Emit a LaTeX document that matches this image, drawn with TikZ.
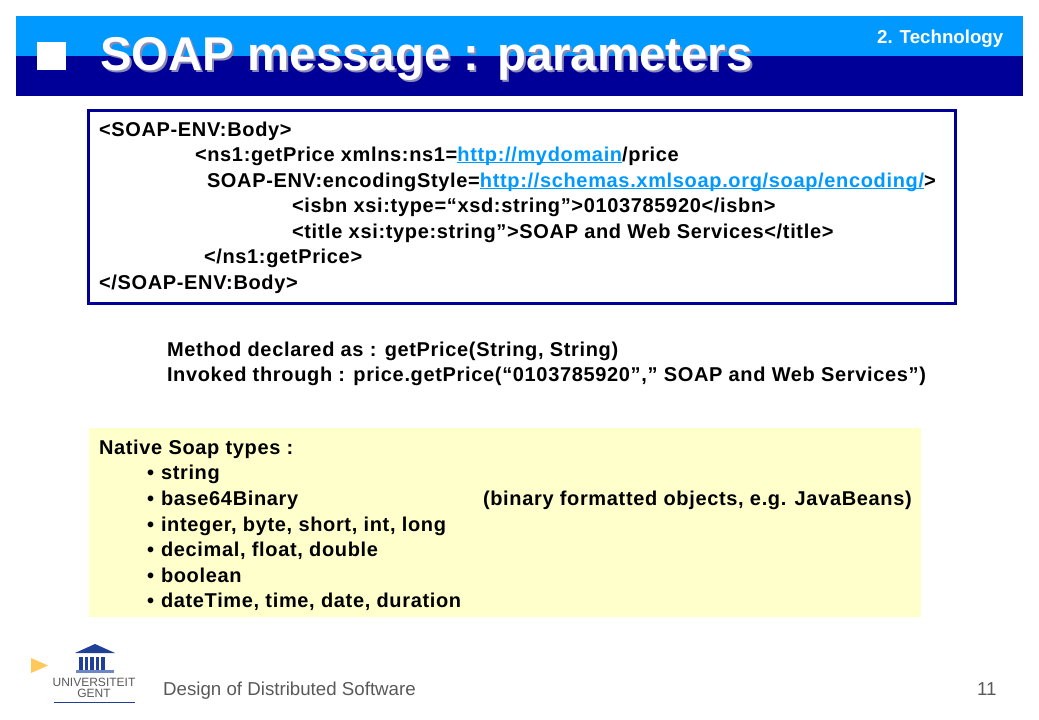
\documentclass[tikz,border=0pt]{standalone}
\usepackage{fontspec}
\setmainfont{Liberation Sans}
\newfontfamily\spaced[LetterSpace=3.3]{Liberation Sans}
\usetikzlibrary{positioning}
\definecolor{darkhead}{HTML}{000099}
\definecolor{lighthead}{HTML}{0099FF}
\definecolor{notefill}{HTML}{FFFFCC}
\definecolor{titleshade}{HTML}{8A8AB8}
\definecolor{footgray}{HTML}{595959}
\definecolor{pointer}{HTML}{FFC85A}
\definecolor{logoblue}{HTML}{1F3F99}
\definecolor{logolight}{HTML}{6F86C8}
\newcommand*{\weblink}[1]{\textcolor{lighthead}{\underline{\smash{\hbox{#1}}}}}
\tikzstyle{textline} = [anchor=base west, inner sep=0pt, outer sep=0pt, font=\fontsize{20}{24}\selectfont\spaced\bfseries]
\tikzstyle{title} = [anchor=base west, inner sep=0pt, font=\fontsize{47.4}{56}\selectfont\bfseries]
\tikzstyle{foot} = [anchor=base west, inner sep=0pt, text=footgray, font=\fontsize{18.7}{22}\selectfont]
\tikzstyle{logotext} = [anchor=base, inner sep=0pt, text=footgray, font=\fontsize{12}{14}\selectfont]

\begin{document}
\begin{tikzpicture}[x=1pt, y=-1pt]
    \useasboundingbox (0,0) rectangle (1039,720);

    % Header.
    \fill [lighthead] (16,16) rectangle (1023,56);
    \fill [darkhead] (16,56) rectangle (1023,96);
    \fill [white] (37,42) rectangle (66,70);
    \node (shade) [title, text=titleshade] at (102,72) {SOAP message : parameters};
    \node (heading) [title, text=white] at (100,70) {SOAP message : parameters};
    \node (chapter) [anchor=base west, inner sep=0pt, text=white, font=\fontsize{18.7}{22}\selectfont\bfseries] at (877,43) {2. Technology};

    % Message.
    \draw [darkhead, line width=3.5pt] (88.5,110.5) rectangle (955.5,303.5);
    \node (body1) [textline] at (99,136) {<SOAP-ENV:Body>};
    \node (price1) [textline] at (195,161) {<ns1:getPrice xmlns:ns1=\weblink{http://mydomain}/price};
    \node (style) [textline] at (207,187) {SOAP-ENV:encodingStyle=\weblink{http://schemas.xmlsoap.org/soap/encoding/}>};
    \node (isbn) [textline] at (292,212) {<isbn xsi:type=“xsd:string”>0103785920</isbn>};
    \node (booktitle) [textline] at (292,238) {<title xsi:type:string”>SOAP and Web Services</title>};
    \node (price2) [textline] at (204,263.5) {</ns1:getPrice>};
    \node (body2) [textline] at (99,289) {</SOAP-ENV:Body>};

    % Method.
    \node (declared) [textline] at (167,356) {Method declared as : getPrice(String, String)};
    \node (invoked) [textline] at (167,381) {Invoked through : price.getPrice(“0103785920”,” SOAP and Web Services”)};

    % Types.
    \fill [notefill] (89,428) rectangle (921,617);
    \node (native) [textline] at (99,454) {Native Soap types :};
    \foreach \n/\y/\t in {1/479/string, 2/505/base64Binary, 3/531/{integer, byte, short, int, long},
        4/556/{decimal, float, double}, 5/582/boolean, 6/607/{dateTime, time, date, duration}} {
        \node (bullet\n) [textline] at (147,\y) {•};
        \node (type\n) [textline] at (161,\y) {\t};
    }
    \node (binary) [textline] at (483,505) {(binary formatted objects, e.g. JavaBeans)};

    % Footer.
    \fill [pointer] (31,658) -- (48,665.5) -- (31,673) -- cycle;
    \fill [logoblue] (75,653) -- (95,644) -- (115,653) -- cycle;
    \foreach \x in {79,84.5,...,106} {
        \fill [logoblue] (\x,657) rectangle +(3.5,13);
    }
    \fill [logolight] (76,670) rectangle (114,673);
    \node (univ) [logotext] at (94,686) {UNIVERSITEIT};
    \node (gent) [logotext] at (94,697) {GENT};
    \draw [logoblue, line width=0.8pt] (54,702) -- (135,702);
    \node (course) [foot] at (163,695) {Design of Distributed Software};
    \node (page) [foot] at (977,695) {11};
\end{tikzpicture}
\end{document}
